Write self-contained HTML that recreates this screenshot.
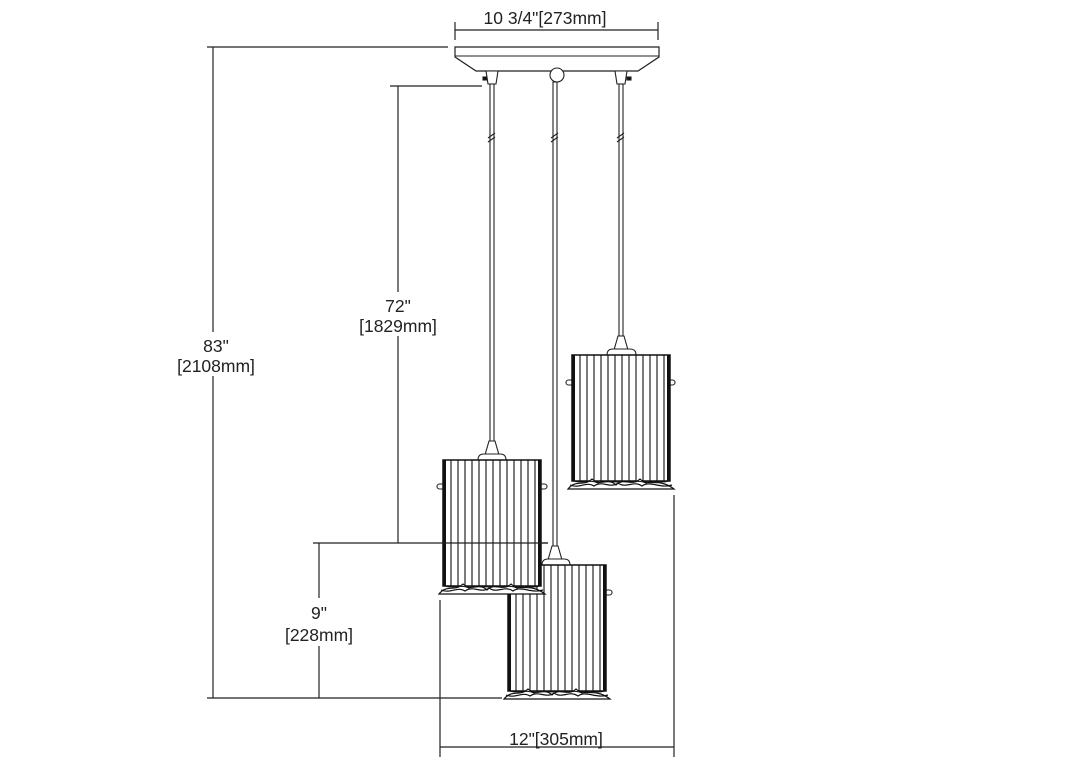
<!DOCTYPE html>
<html><head><style>
html,body{margin:0;padding:0;background:#fff;}
svg{display:block;}
text{font-family:"Liberation Sans",sans-serif;font-size:17.5px;fill:#222;}
</style></head><body>
<svg width="1080" height="771" viewBox="0 0 1080 771" xmlns="http://www.w3.org/2000/svg">
<defs>
<pattern id="st" width="7" height="10" patternUnits="userSpaceOnUse">
<rect width="7" height="10" fill="#fff"/>
<line x1="1" y1="0" x2="1" y2="10" stroke="#111" stroke-width="1.1"/>
</pattern>
<g id="shade">
<rect x="0" y="0" width="98" height="126" fill="url(#st)" stroke="#111" stroke-width="1.5"/>
<line x1="1.5" y1="0" x2="1.5" y2="126" stroke="#111" stroke-width="3"/>
<line x1="96.5" y1="0" x2="96.5" y2="126" stroke="#111" stroke-width="3"/>
<path d="M-4,134 C4,124 12,132 20,124 C28,132 36,122 44,130 C52,122 60,132 68,124 C76,132 86,122 102,134 Z" fill="#fff" stroke="#111" stroke-width="1.2"/>
<path d="M-2,130 C8,134 14,126 22,131 C30,125 38,134 46,128 C54,134 62,125 70,131 C78,125 88,134 100,130" fill="none" stroke="#111" stroke-width="1.2"/>
<path d="M2,126 C10,129 18,124 26,128 C34,124 42,129 50,126 C58,129 66,124 74,128 C82,124 90,129 96,126" fill="none" stroke="#111" stroke-width="1"/>
</g>
</defs>
<g stroke="#222" stroke-width="1.2" fill="none">
<line x1="455" y1="30" x2="658" y2="30"/>
<line x1="455" y1="22" x2="455" y2="40"/>
<line x1="658" y1="22" x2="658" y2="40"/>
<line x1="207" y1="47" x2="448" y2="47"/>
<line x1="213" y1="47" x2="213" y2="698"/>
<line x1="207" y1="698" x2="502" y2="698"/>
<line x1="390" y1="86" x2="482" y2="86"/>
<line x1="398" y1="86" x2="398" y2="543"/>
<line x1="313" y1="543" x2="548" y2="543"/>
<line x1="319" y1="543" x2="319" y2="698"/>
<line x1="440" y1="600" x2="440" y2="757"/>
<line x1="674" y1="495" x2="674" y2="757"/>
<line x1="440" y1="747" x2="674" y2="747"/>
</g>
<rect x="170" y="332" width="92" height="44" fill="#fff"/>
<rect x="352" y="292" width="92" height="44" fill="#fff"/>
<rect x="280" y="598" width="80" height="48" fill="#fff"/>
<text x="545" y="24" text-anchor="middle">10 3/4"[273mm]</text>
<text x="216" y="352" text-anchor="middle">83"</text>
<text x="216" y="372" text-anchor="middle">[2108mm]</text>
<text x="398" y="312" text-anchor="middle">72"</text>
<text x="398" y="332" text-anchor="middle">[1829mm]</text>
<text x="319" y="619" text-anchor="middle">9"</text>
<text x="319" y="641" text-anchor="middle">[228mm]</text>
<text x="556" y="745" text-anchor="middle">12"[305mm]</text>
<path d="M455,47 H659 V57 L638,71 H476 L455,57 Z" fill="#fff" stroke="#222" stroke-width="1.2"/>
<line x1="455" y1="56" x2="659" y2="56" stroke="#222" stroke-width="1"/>
<g stroke="#222" stroke-width="1.1" fill="#fff">
<path d="M486,71 H498 L496,84 H488 Z"/><rect x="483" y="77" width="4" height="3" fill="#111"/>
<path d="M615,71 H627 L625,84 H617 Z"/><rect x="627" y="77" width="4" height="3" fill="#111"/>
<circle cx="557" cy="75" r="7"/>
<rect x="490" y="84" width="4" height="360"/>
<rect x="619" y="84" width="4" height="252"/>
<rect x="553" y="82" width="4" height="466"/>
<path d="M488,138 l7,-5 M488,142 l7,-5" fill="none"/>
<path d="M617,138 l7,-5 M617,142 l7,-5" fill="none"/>
<path d="M551,138 l7,-5 M551,142 l7,-5" fill="none"/>
</g>
<g stroke="#222" stroke-width="1.1" fill="#fff">
<path d="M618,336 H624 L628,350 H614 Z"/>
<path d="M607,355 Q607,349 613,349 H630 Q636,349 636,355 Z"/>
<rect x="566" y="380" width="8" height="5" rx="2.5"/><rect x="667" y="380" width="8" height="5" rx="2.5"/>
</g>
<use href="#shade" x="572" y="355"/>
<g stroke="#222" stroke-width="1.1" fill="#fff">
<path d="M552,546 H558 L562,560 H548 Z"/>
<path d="M542,565 Q542,559 548,559 H564 Q570,559 570,565 Z"/>
<rect x="604" y="590" width="8" height="5" rx="2.5"/>
</g>
<use href="#shade" x="508" y="565"/>
<g stroke="#222" stroke-width="1.1" fill="#fff">
<path d="M489,441 H495 L499,455 H485 Z"/>
<path d="M478,460 Q478,454 484,454 H500 Q506,454 506,460 Z"/>
<rect x="437" y="484" width="8" height="5" rx="2.5"/><rect x="539" y="484" width="8" height="5" rx="2.5"/>
</g>
<use href="#shade" x="443" y="460"/>
<line x1="443" y1="543" x2="548" y2="543" stroke="#222" stroke-width="1.2"/>
</svg>
</body></html>
